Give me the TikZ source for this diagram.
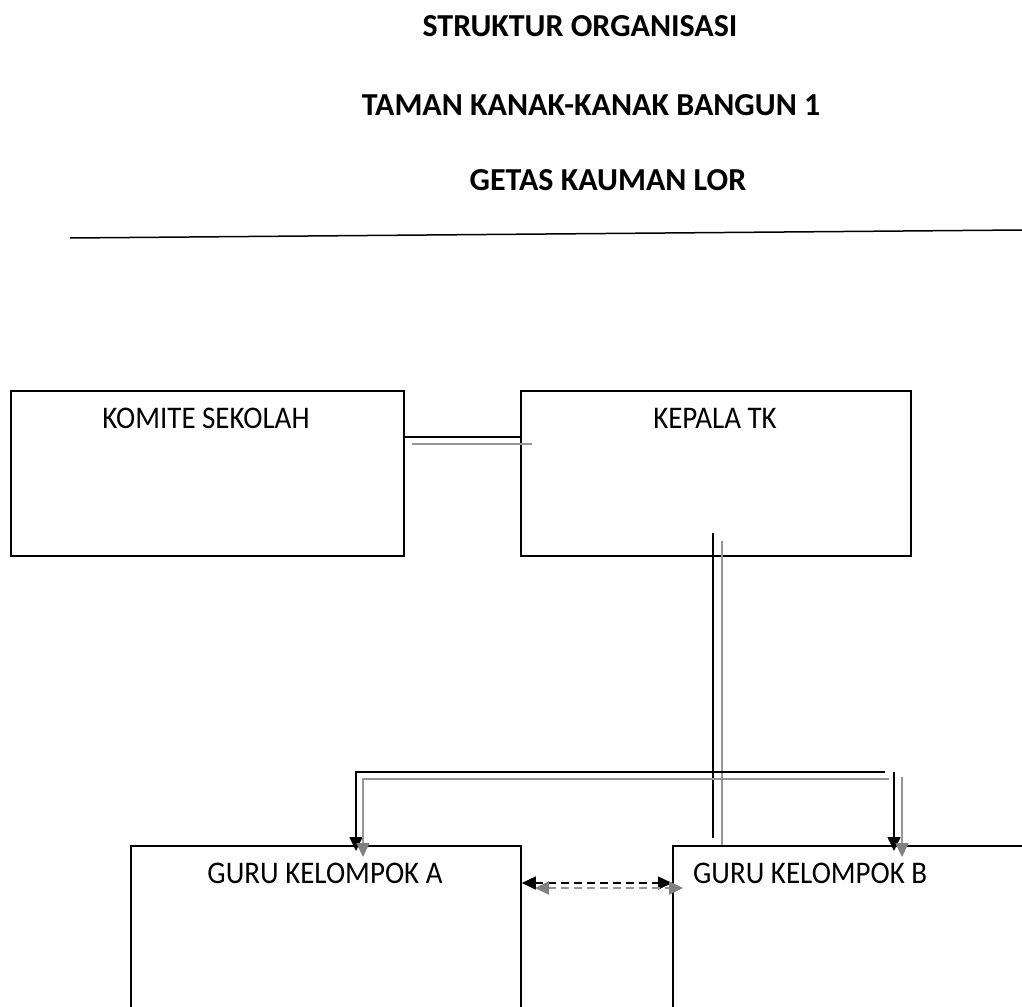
\documentclass[tikz,border=0pt]{standalone}
\usepackage{fontspec}
\setmainfont{Carlito}
\newfontfamily\lblfont{Carlito}[FakeStretch=0.92]
\usetikzlibrary{arrows.meta}
\definecolor{lgray}{RGB}{150,150,150}
\definecolor{agray}{RGB}{128,128,128}
\begin{document}
\begin{tikzpicture}[x=1pt,y=-1pt,
  box/.style={draw,line width=1.8pt,anchor=north west,inner sep=0pt},
  ttl/.style={anchor=base,inner sep=0pt,font=\fontsize{32}{37}\selectfont\bfseries},
  lbl/.style={anchor=base,inner sep=0pt,font=\lblfont\fontsize{31.5}{36}\selectfont},
  blk/.style={line width=1.6pt,black},
  gry/.style={line width=1.6pt,lgray},
  btip/.tip={Triangle[length=14pt,width=13pt]},
  gtip/.tip={Triangle[length=14pt,width=13pt,color=agray]}]
\useasboundingbox[fill=white] (0,0) rectangle (1022,1006);

% titles
\node[ttl] (t1) at (580,37) {STRUKTUR ORGANISASI};
\node[ttl] (t2) at (591,116) {TAMAN KANAK-KANAK BANGUN 1};
\node[ttl] (t3) at (608,190) {GETAS KAUMAN LOR};

% rule
\coordinate (r1) at (70,238);
\coordinate (r2) at (1022,230);
\draw[line width=1.5pt] (r1) -- (r2);

% boxes
\node[box,minimum width=393pt,minimum height=165pt] (komite) at (10,390) {};
\node[box,minimum width=390pt,minimum height=165pt] (kepala) at (520,390) {};
\node[box,minimum width=390pt,minimum height=200pt] (guruA) at (130,845) {};
\node[box,minimum width=390pt,minimum height=200pt] (guruB) at (672,845) {};

\node[lbl] (komiteT) at (206,428) {KOMITE SEKOLAH};
\node[lbl] (kepalaT) at (715,428) {KEPALA TK};
\node[lbl] (guruAT) at (325,883) {GURU KELOMPOK A};
\node[lbl,anchor=base west] (guruBT) at (693,883) {GURU KELOMPOK B};

% komite - kepala
\coordinate (h1) at (0,437);
\draw[blk] (komite.east |- h1) -- (kepala.west |- h1);
\coordinate (g1) at (412,444);
\coordinate (g2) at (532,444);
\draw[gry] (g1) -- (g2);

% vertical from kepala
\coordinate (v1) at (713,533);
\coordinate (v2) at (713,838);
\draw[blk] (v1) -- (v2);
\coordinate (v3) at (722,541);
\coordinate (v4) at (722,845);
\draw[gry] (v3) -- (v4);

% distribution to groups
\coordinate (a1) at (885,772);
\coordinate (a2) at (356,772);
\coordinate (a3) at (356,851);
\draw[blk,-btip,line join=miter] (a1) -- (a2) -- (a3);
\coordinate (b1) at (889,779);
\coordinate (b2) at (363,779);
\coordinate (b3) at (363,857);
\draw[gry,-gtip,line join=miter] (b1) -- (b2) -- (b3);
\coordinate (c1) at (894,772);
\coordinate (c2) at (894,851);
\draw[blk,-btip] (c1) -- (c2);
\coordinate (d1) at (902,777);
\coordinate (d2) at (902,857);
\draw[gry,-gtip] (d1) -- (d2);

% between groups
\coordinate (e1) at (521,883);
\coordinate (e2) at (672,883);
\draw[blk,dash pattern=on 8pt off 5pt,btip-btip] (guruA.east |- e1) -- (guruB.west |- e2);
\coordinate (f1) at (535,888);
\coordinate (f2) at (683,888);
\draw[gry,line width=2.2pt,dash pattern=on 8pt off 5pt,gtip-gtip] (f1) -- (f2);
\end{tikzpicture}
\end{document}
